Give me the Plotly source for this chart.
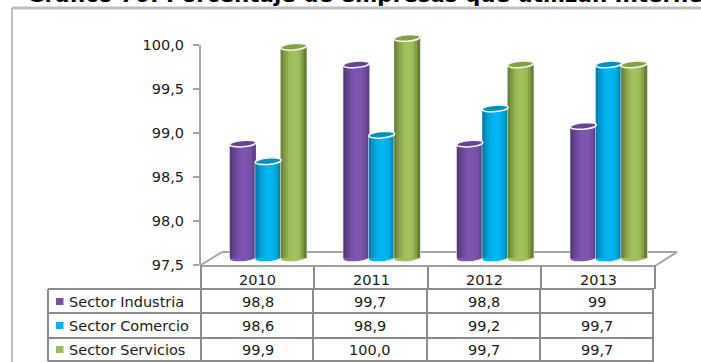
import plotly.graph_objects as go

# ---- data ----
years = ["2010", "2011", "2012", "2013"]
series_names = ["Sector Industria", "Sector Comercio", "Sector Servicios"]
industria = [98.8, 99.7, 98.8, 99.0]
comercio = [98.6, 98.9, 99.2, 99.7]
servicios = [99.9, 100.0, 99.7, 99.7]
industria_labels = ["98,8", "99,7", "98,8", "99"]
comercio_labels = ["98,6", "98,9", "99,2", "99,7"]
servicios_labels = ["99,9", "100,0", "99,7", "99,7"]
y_ticks = [97.5, 98.0, 98.5, 99.0, 99.5, 100.0]
title_text = "Gráfico 70: Porcentaje de empresas que utilizan Internet"

values = [industria, comercio, servicios]
labels = [industria_labels, comercio_labels, servicios_labels]

# ---- styles ----
W, H = 701, 362
FONT = "DejaVu Sans"
TXT = "#1a1a1a"
GRID = "#8c8c8c"
FRAME = "#bfbfbf"
ramps = [
    ["#553a7a", "#61428b", "#6c4a9b", "#7750a8", "#7d55b0", "#7d55b0", "#7b54ad", "#7750a8", "#6f4c9f", "#5f4188"],
    ["#0080ab", "#0093c4", "#00a3d9", "#00aee8", "#00b4f0", "#00b6f2", "#00b4f0", "#00ade6", "#009fd4", "#0087b3"],
    ["#6b8439", "#7c9843", "#8daa4c", "#99b955", "#a0c05b", "#a2c25c", "#a0c05b", "#98b654", "#85a047", "#687f37"],
]
cap_colors = ["#654490", "#0090bf", "#84a044"]
swatch_colors = ["#7750a8", "#00b4f0", "#9cbc58"]

px = lambda v: v / W
py = lambda v: 1 - v / H

AXIS_MIN, AXIS_MAX = 97.5, 100.0
PAD = 0.1  # spare room round the bar axis so that the cylinder ends are not clipped

fig = go.Figure()

# value axis shown at the front of the chart; bars stand in the middle of the floor
fig.add_trace(go.Scatter(x=[0] * len(y_ticks), y=y_ticks, xaxis="x2", yaxis="y2",
                         mode="markers", marker=dict(opacity=0), hoverinfo="skip", showlegend=False))

# bars with a cylinder-like shading, as narrow side-by-side strips
GROUP_PX = 113.5
STEP = 25.4 / GROUP_PX
BAR = 25.5 / GROUP_PX
idx = list(range(len(years)))
for s, vals in enumerate(values):
    xs = [i + (s - 1) * STEP for i in idx]
    heights = [v - AXIS_MIN for v in vals]
    fig.add_trace(go.Bar(x=xs, y=heights, base=AXIS_MIN, width=(BAR + 1.6 / GROUP_PX),
                         marker=dict(color="#f4f4f4", line_width=0), hoverinfo="skip", showlegend=False))
    ramp = ramps[s]
    n = len(ramp)
    for k, c in enumerate(ramp):
        off = (k + 0.5 - n / 2) * BAR / n
        fig.add_trace(go.Bar(x=[x + off for x in xs], y=heights, base=AXIS_MIN, width=BAR / n * 1.25,
                             marker=dict(color=c, line_width=0), hoverinfo="skip", showlegend=False,
                             name=series_names[s]))

shapes = []
def line(x0, y0, x1, y1, color=GRID, w=2, layer="above"):
    shapes.append(dict(type="line", xref="paper", yref="paper", x0=px(x0), y0=py(y0), x1=px(x1), y1=py(y1),
                       line=dict(color=color, width=w), layer=layer))

# outer frame
line(12, 8, 12, H, FRAME, 2, "below")
line(12, 8, W, 8, FRAME, 3, "below")

# floor
line(201, 265, 222, 252, "#a6a6a6", 2, "below")
line(222, 252, 677, 252, "#a6a6a6", 2, "below")
line(677, 252, 655, 266, "#a6a6a6", 2, "below")

# data table
for x in [201, 314, 428, 541, 655]:
    line(x, 265, x, 289)
for x in [48, 201, 313, 427, 540, 653]:
    line(x, 289, x, 361)
line(201, 266, 655, 266, "#a0a0a0", 2)
for y in [289, 313, 338, 361]:
    line(48, y, 654, y)

# cylinder ends: a tilted ellipse written with cubic curves, in pixels round its anchor
RX, RY, K, TILT = 13.0, 3.2, 0.5523, 0.08
def pt(a, b):
    return f"{a:.2f} {b + TILT * a:.2f}"
ell = (f"M {pt(-RX, 0)} "
       f"C {pt(-RX, K * RY)} {pt(-K * RX, RY)} {pt(0, RY)} "
       f"C {pt(K * RX, RY)} {pt(RX, K * RY)} {pt(RX, 0)} "
       f"C {pt(RX, -K * RY)} {pt(K * RX, -RY)} {pt(0, -RY)} "
       f"C {pt(-K * RX, -RY)} {pt(-RX, -K * RY)} {pt(-RX, 0)} Z")
for s, vals in enumerate(values):
    for i, v in enumerate(vals):
        x = i + (s - 1) * STEP
        shapes.append(dict(type="path", xref="x", yref="y", xsizemode="pixel", ysizemode="pixel",
                           xanchor=x, yanchor=AXIS_MIN, path=ell, fillcolor=ramps[s][4], line=dict(width=0), layer="below"))
        shapes.append(dict(type="path", xref="x", yref="y", xsizemode="pixel", ysizemode="pixel",
                           xanchor=x, yanchor=v, path=ell, fillcolor=cap_colors[s],
                           line=dict(color="#f5f5f5", width=1.5), layer="above"))

ann = []
def text(x, y, t, size=14.5, anchor="center"):
    ann.append(dict(xref="paper", yref="paper", x=px(x), y=py(y), text=t, showarrow=False,
                    xanchor=anchor, yanchor="middle", font=dict(family=FONT, size=size, color=TXT),
                    align="left"))

# title, cut by the top edge of the image as in the source
ann.append(dict(xref="paper", yref="paper", x=px(25), y=py(9), text=f"<b>{title_text}</b>", showarrow=False,
                xanchor="left", yanchor="bottom", font=dict(family=FONT, size=21.4, color="#000")))

col_hdr = [257.5, 371, 484.5, 598]
col_val = [257.5, 370, 483.5, 596.5]
row_y = [301.5, 325.5, 349.5]
for j, y in enumerate(years):
    text(col_hdr[j], 280, y)
for s, name in enumerate(series_names):
    shapes.append(dict(type="rect", xref="paper", yref="paper", x0=px(56), x1=px(63.5),
                       y0=py(row_y[s] + 3.5), y1=py(row_y[s] - 3.5),
                       fillcolor=swatch_colors[s], line_width=0))
    text(66.5, row_y[s], name.replace(" ", "&nbsp;"), anchor="left")
    for j in idx:
        text(col_val[j], row_y[s], labels[s][j])

AX_L, AX_R = 201, 655
SHIFT_X = 10.5
PX_PER_UNIT = 88
fig.update_layout(
    width=W, height=H, margin=dict(l=0, r=0, t=0, b=0, autoexpand=False),
    paper_bgcolor="white", plot_bgcolor="rgba(0,0,0,0)", barmode="overlay", showlegend=False,
    separators=",.", shapes=shapes, annotations=ann, font=dict(family=FONT),
    xaxis=dict(domain=[px(AX_L + SHIFT_X), px(AX_R + SHIFT_X)], range=[-0.5, 3.5], visible=False, anchor="y"),
    yaxis=dict(domain=[py(258 + PAD * PX_PER_UNIT), py(38 - PAD * PX_PER_UNIT)],
               range=[AXIS_MIN - PAD, AXIS_MAX + PAD], visible=False, anchor="x"),
    xaxis2=dict(domain=[px(AX_L), px(AX_R)], range=[0, 1], visible=False, anchor="y2"),
    yaxis2=dict(domain=[py(265), py(45)], range=[AXIS_MIN, AXIS_MAX], anchor="x2", tickvals=y_ticks, tickformat=".1f",
                showgrid=False, zeroline=False, showline=True, linecolor="#a6a6a6", linewidth=2,
                ticks="outside", ticklen=6, tickwidth=2, tickcolor="#a6a6a6", ticklabelstandoff=6,
                tickfont=dict(family=FONT, size=14.5, color=TXT)),
)

fig.write_html("out.html", config=dict(displayModeBar=False),
               post_script="document.body.style.margin='0';document.body.style.overflow='hidden';")
